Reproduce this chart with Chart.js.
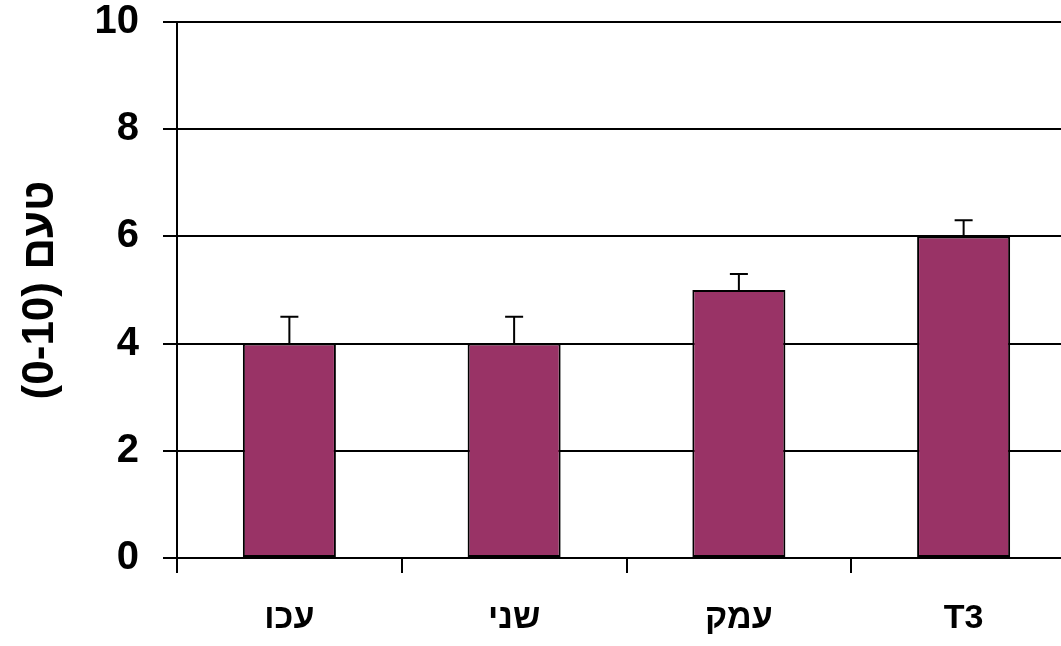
<!DOCTYPE html>
<html>
<head>
<meta charset="utf-8">
<script src="https://cdn.jsdelivr.net/npm/chart.js@4/dist/chart.umd.min.js"></script>
<style>
  html, body { margin: 0; padding: 0; background: #fff; overflow: hidden; }
  #wrap { position: relative; width: 1076px; height: 646px; }
</style>
</head>
<body>
<div id="wrap"><canvas id="myChart"></canvas></div>
<script>
const categories = ["עכו", "שני", "עמק", "T3"]
const values = [4, 4, 5, 6]
const errors = [0.5, 0.5, 0.3, 0.3]
const yTitle = "(0-10) טעם"

const FONT = "'Liberation Sans', Arial, sans-serif"

// upward error bars with a cap, drawn through the y scale
const errorBars = {
  id: "errorBars",
  afterDatasetsDraw(chart) {
    const ctx = chart.ctx
    const y = chart.scales.y
    const meta = chart.getDatasetMeta(0)
    ctx.save()
    ctx.strokeStyle = "#000"
    ctx.lineWidth = 2
    meta.data.forEach((bar, i) => {
      const top = y.getPixelForValue(values[i] + errors[i])
      const base = y.getPixelForValue(values[i])
      ctx.beginPath()
      ctx.moveTo(bar.x, base)
      ctx.lineTo(bar.x, top)
      ctx.moveTo(bar.x - 9, top)
      ctx.lineTo(bar.x + 9, top)
      ctx.stroke()
    })
    ctx.restore()
  }
}

new Chart(document.getElementById("myChart"), {
  type: "bar",
  data: {
    labels: categories,
    datasets: [{
      data: values,
      backgroundColor: "#993366",
      borderColor: "#000",
      borderWidth: 2,
      borderSkipped: false,
      barPercentage: 0.414,
      categoryPercentage: 1
    }]
  },
  options: {
    responsive: true,
    maintainAspectRatio: false,
    animation: false,
    layout: { padding: { top: 22, right: 0, bottom: 0, left: 0 } },
    plugins: {
      legend: { display: false },
      tooltip: { enabled: false }
    },
    scales: {
      x: {
        grid: {
          display: true,
          drawOnChartArea: false,
          drawTicks: true,
          tickLength: 15,
          color: "#000",
          lineWidth: 2,
          offset: true
        },
        border: { color: "#000", width: 2 },
        ticks: {
          color: "#000",
          padding: 25,
          font: { family: FONT, size: 34, weight: "bold" }
        },
        afterFit(scale) { scale.height = 88 }
      },
      y: {
        min: 0,
        max: 10,
        ticks: {
          stepSize: 2,
          color: "#000",
          padding: 24,
          font: { family: FONT, size: 40, weight: "bold" }
        },
        grid: {
          color: "#000",
          lineWidth: 2,
          tickLength: 14
        },
        border: { color: "#000", width: 2 },
        title: {
          display: true,
          text: yTitle,
          color: "#000",
          padding: { top: 14, bottom: 0 },
          font: { family: FONT, size: 44, weight: "bold" }
        },
        afterFit(scale) {
          scale.width = 177
          scale.paddingTop = 0
          scale.paddingBottom = 0
        }
      }
    }
  },
  plugins: [errorBars]
})
</script>
</body>
</html>
